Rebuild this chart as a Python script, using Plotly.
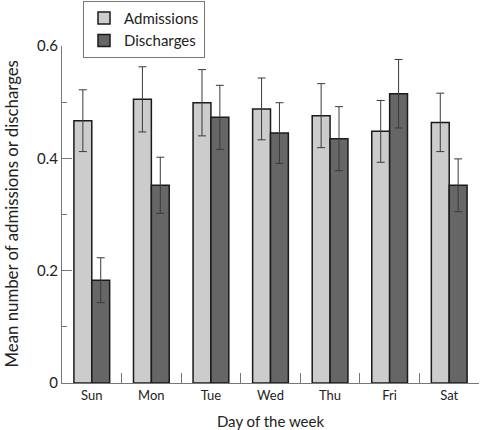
import plotly.graph_objects as go

days = ["Sun", "Mon", "Tue", "Wed", "Thu", "Fri", "Sat"]
admissions = [0.467, 0.505, 0.499, 0.488, 0.476, 0.448, 0.464]
admissions_err = [0.055, 0.058, 0.059, 0.055, 0.057, 0.055, 0.052]
discharges = [0.183, 0.352, 0.473, 0.445, 0.435, 0.515, 0.352]
discharges_err = [0.040, 0.050, 0.057, 0.054, 0.057, 0.061, 0.047]

FONT = "Lato"

fig = go.Figure()
fig.add_trace(go.Bar(
    x=days, y=admissions, name="Admissions",
    marker=dict(color="#cccccc", line=dict(color="#1a1a1a", width=1.5)),
    error_y=dict(type="data", array=admissions_err, color="#3a3a3a", thickness=1, width=4),
))
fig.add_trace(go.Bar(
    x=days, y=discharges, name="Discharges",
    marker=dict(color="#666666", line=dict(color="#1a1a1a", width=1.5)),
    error_y=dict(type="data", array=discharges_err, color="#3a3a3a", thickness=1, width=4),
))

fig.update_layout(
    width=484, height=430,
    margin=dict(l=62, r=5, t=46, b=47, autoexpand=False),
    paper_bgcolor="white", plot_bgcolor="white",
    font=dict(family=FONT, size=13, color="#222222"),
    barmode="group", bargap=0.4, bargroupgap=0,
    showlegend=True,
    legend=dict(
        xref="container", yref="container",
        x=0.1715, y=0.998, xanchor="left", yanchor="top",
        bordercolor="#777777", borderwidth=1, bgcolor="white",
        font=dict(family=FONT, size=15, color="#222222"),
        tracegroupgap=0, itemwidth=30,
    ),
    xaxis=dict(
        type="category", range=[-0.5, 6.5],
        showline=True, linecolor="#777777", linewidth=1,
        ticks="inside", tickson="boundaries", ticklen=10, tickcolor="#777777",
        showgrid=False, zeroline=False,
        title=dict(text="Day of the week", font=dict(size=15)),
        tickfont=dict(size=13),
    ),
    yaxis=dict(
        range=[0, 0.6], tickvals=[0, 0.2, 0.4, 0.6], ticktext=["0", "0.2", "0.4", "0.6"],
        showline=True, linecolor="#777777", linewidth=1,
        ticks="inside", ticklen=10, tickcolor="#777777",
        minor=dict(tickvals=[0.1, 0.3, 0.5], ticks="inside", ticklen=5, tickcolor="#777777"),
        showgrid=False, zeroline=False,
        tickfont=dict(size=15),
    ),
    annotations=[dict(
        text="Mean number of admissions or discharges",
        xref="paper", yref="paper", x=0, y=0.5, xanchor="center", yanchor="middle",
        xshift=-51, textangle=-90, showarrow=False,
        font=dict(family=FONT, size=16.8, color="#222222"),
    )],
)

fig.write_html(
    "out.html",
    config={"displayModeBar": False},
    post_script="document.body.style.margin='0';document.body.style.overflow='hidden';",
)
